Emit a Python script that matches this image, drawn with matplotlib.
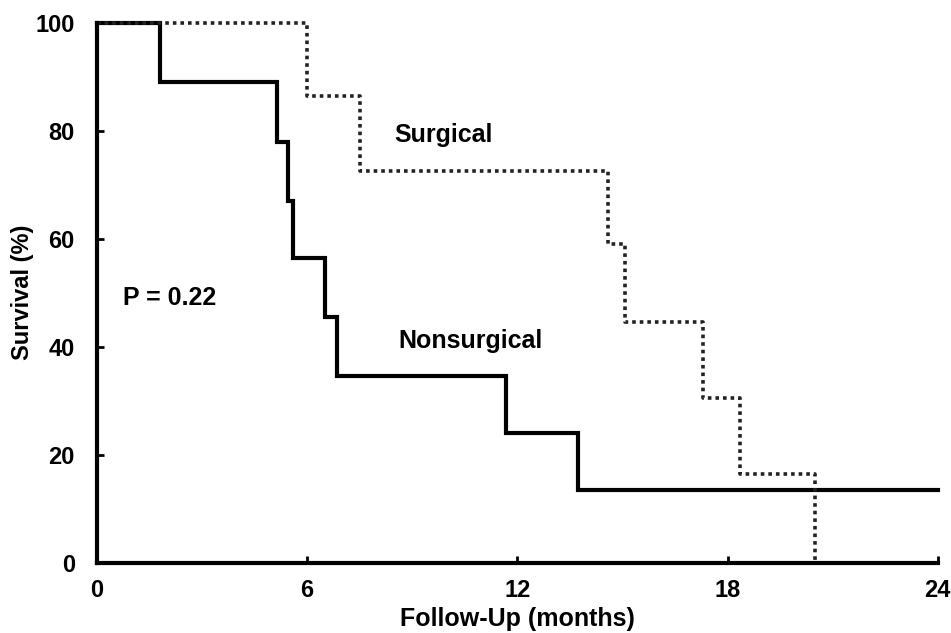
import matplotlib
matplotlib.use("Agg")
import matplotlib.pyplot as plt

# Data (Kaplan-Meier step curves)
nonsurg_t = [0, 1.8, 5.13, 5.46, 5.6, 6.5, 6.84, 11.69, 13.74, 24]
nonsurg_s = [100, 89, 78, 67, 56.5, 45.5, 34.5, 24, 13.5, 13.5]
surg_t = [0, 6.0, 7.5, 14.6, 15.07, 17.3, 18.35, 20.5]
surg_s = [100, 86.5, 72.5, 59, 44.5, 30.5, 16.5, 0]
xticks = [0, 6, 12, 18, 24]
yticks = [0, 20, 40, 60, 80, 100]

plt.rcParams['font.family'] = ['Liberation Sans', 'DejaVu Sans']
plt.rcParams['font.weight'] = 'bold'

fig = plt.figure(figsize=(9.51, 6.33), dpi=100)
ax = fig.add_axes([0.102, 0.111, 0.884, 0.853])

ax.step(nonsurg_t, nonsurg_s, where='post', color='black', lw=3.0,
        solid_joinstyle='miter', clip_on=False)
ax.step(surg_t, surg_s, where='post', color='#222222', lw=2.6,
        linestyle=(0, (1, 1.1)), clip_on=False)

ax.set_xlim(0, 24)
ax.set_ylim(0, 100)
ax.set_xticks(xticks)
ax.set_yticks(yticks)
ax.tick_params(direction='in', length=5, width=2, labelsize=17)
ax.tick_params(axis='y', pad=16)
ax.tick_params(axis='x', pad=12)
for lab in ax.get_xticklabels() + ax.get_yticklabels():
    lab.set_fontweight('bold')
for s in ['top', 'right']:
    ax.spines[s].set_visible(False)
for s in ['left', 'bottom']:
    ax.spines[s].set_linewidth(3)
    ax.spines[s].set_zorder(3)
ax.set_xlabel('Follow-Up (months)', fontsize=18, fontweight='bold', labelpad=3)
ax.set_ylabel('Survival (%)', fontsize=17, fontweight='bold', labelpad=1)

ax.text(8.5, 79.2, 'Surgical', fontsize=18, fontweight='bold', va='center', ha='left')
ax.text(8.6, 41, 'Nonsurgical', fontsize=18, fontweight='bold', va='center', ha='left')
ax.text(0.75, 49, 'P = 0.22', fontsize=18, fontweight='bold', va='center', ha='left')

fig.savefig('out.png', dpi=100)
